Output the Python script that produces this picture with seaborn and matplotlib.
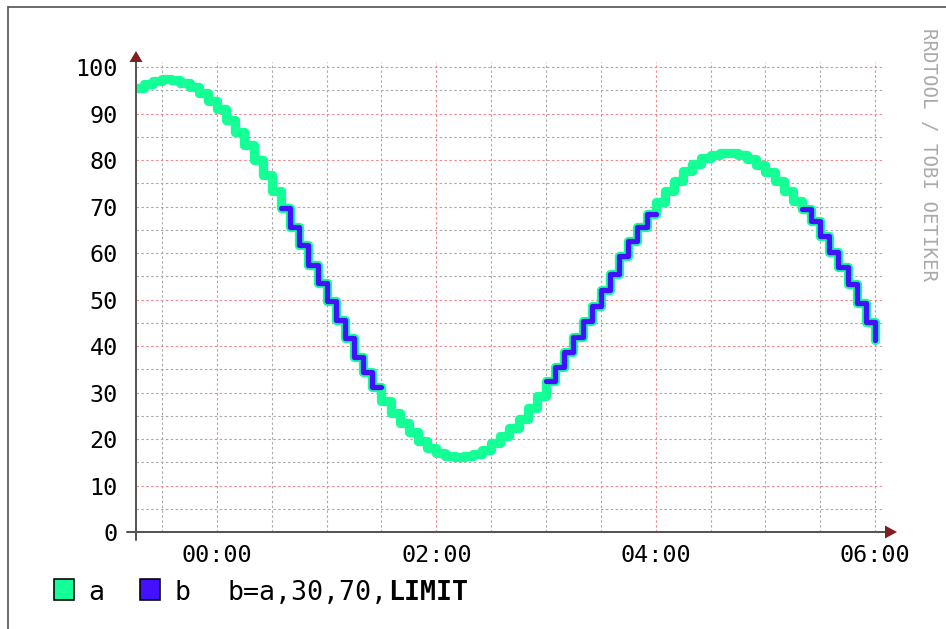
import numpy as np
import matplotlib
matplotlib.use("Agg")
import matplotlib.pyplot as plt
import seaborn as sns
from matplotlib.lines import Line2D
from matplotlib.patches import Polygon, Rectangle

# ---------------- data ----------------
# start of each 5-minute step, minutes relative to 00:00
minutes = list(range(-45, 361, 5))
a_values = [
    95.4, 96.4, 97.1, 97.4, 97.2, 96.6, 95.7, 94.4, 92.8, 90.9,
    88.6, 86.0, 83.2, 80.1, 76.8, 73.3, 69.7, 65.6, 61.7, 57.4,
    53.5, 49.7, 45.6, 41.7, 37.6, 34.4, 31.2, 28.1, 25.6, 23.4,
    21.5, 19.6, 18.1, 17.0, 16.3, 16.1, 16.3, 16.8, 17.7, 19.1,
    20.6, 22.3, 24.4, 26.7, 29.2, 32.4, 35.6, 38.8, 41.9, 45.4,
    48.6, 52.0, 55.6, 59.3, 62.6, 65.6, 68.5, 71.0, 73.4, 75.5,
    77.6, 79.2, 80.4, 81.1, 81.5, 81.5, 81.1, 80.3, 79.0, 77.4,
    75.5, 73.4, 71.2, 69.5, 66.9, 63.6, 60.2, 57.0, 53.3, 49.3,
    45.2, 41.3,
]
limit_low, limit_high = 30, 70
x_major_ticks = [0, 120, 240, 360]
x_major_labels = ["00:00", "02:00", "04:00", "06:00"]
x_minor_ticks = [-30, 30, 60, 90, 150, 180, 210, 270, 300, 330]
y_major_ticks = list(range(0, 101, 10))
y_minor_ticks = list(range(5, 100, 10))
legend_names = ["a", "b"]
legend_comment = "b=a,30,70,"
legend_comment_bold = "LIMIT"
watermark = "RRDTOOL / TOBI OETIKER"

# b = a,30,70,LIMIT  (unknown outside the limits)
b_values = [v if limit_low <= v <= limit_high else np.nan for v in a_values]

# ---------------- style ----------------
W, H = 946, 629
sns.set_style("white")
plt.rcParams["font.family"] = ["DejaVu Sans Mono", "DejaVu Sans"]

GREEN = "#14ff96"
BLUE = "#4411ff"
AXIS = "#555555"
ARROW = "#7f1f1f"
MAJ = "#f08a8a"
MIN = "#a9a9a9"
PX = 0.72  # points per pixel at 100 dpi

fig = plt.figure(figsize=(W / 100, H / 100), dpi=100)
fig.patch.set_facecolor("white")


def fx(p):
    return p / W


def fy(p):
    return 1 - p / H


ax = fig.add_axes([fx(136), fy(532), fx(884) - fx(136), fy(62) - fy(532)])
ax.set_facecolor("white")
ax.set_xlim(-44.3, 364.9)
ax.set_ylim(0, 101.1)
for s in ax.spines.values():
    s.set_visible(False)

ax.set_xticks(x_major_ticks)
ax.set_xticklabels(x_major_labels)
ax.set_xticks(x_minor_ticks, minor=True)
ax.set_yticks(y_major_ticks)
ax.set_yticklabels([str(v) for v in y_major_ticks])
ax.set_yticks(y_minor_ticks, minor=True)

dash = (0, (2.2, 2.2))
ax.grid(which="major", color=MAJ, linestyle=dash, linewidth=0.8)
ax.grid(which="minor", color=MIN, linestyle=dash, linewidth=0.8)
ax.set_axisbelow(True)

ax.tick_params(axis="x", which="major", direction="out", length=5 * PX, width=0.8,
               color=MAJ, pad=5.3, labelsize=16.8, labelcolor="black")
ax.tick_params(axis="x", which="minor", direction="out", length=4 * PX, width=0.8,
               color=MIN)
ax.tick_params(axis="y", which="major", direction="out", length=5 * PX, width=0.8,
               color=MAJ, pad=9.4, labelsize=16.8, labelcolor="black")
ax.tick_params(axis="y", which="minor", direction="out", length=5 * PX, width=0.8,
               color=MIN)

# ---------------- lines ----------------
sns.lineplot(x=minutes, y=a_values, ax=ax, color=GREEN, linewidth=9.3 * PX,
             drawstyle="steps-post", estimator=None, sort=False, legend=False,
             solid_capstyle="round", solid_joinstyle="round", zorder=3)

# draw b in its known runs (gaps where unknown)
runs = []
cur = []
for i, v in enumerate(b_values):
    if np.isnan(v):
        if cur:
            runs.append(cur)
            cur = []
    else:
        cur.append(i)
if cur:
    runs.append(cur)
for r in runs:
    xs = [minutes[i] for i in r]
    ys = [b_values[i] for i in r]
    if r[-1] + 1 < len(minutes):
        xs.append(minutes[r[-1] + 1])
        ys.append(b_values[r[-1]])
    sns.lineplot(x=xs, y=ys, ax=ax, color=BLUE, linewidth=5.3 * PX,
                 drawstyle="steps-post", estimator=None, sort=False, legend=False,
                 solid_capstyle="round", solid_joinstyle="round", zorder=4)

ax.set_xlabel("")
ax.set_ylabel("")

# ---------------- axes lines and arrows ----------------
tf = fig.transFigure
fig.add_artist(Line2D([fx(127), fx(885)], [fy(532), fy(532)], transform=tf,
                      color=AXIS, linewidth=2 * PX, zorder=5))
fig.add_artist(Line2D([fx(136), fx(136)], [fy(540), fy(62)], transform=tf,
                      color=AXIS, linewidth=2 * PX, zorder=5))
fig.add_artist(Polygon([[fx(885), fy(525.5)], [fx(885), fy(538.5)], [fx(897), fy(532)]],
                       closed=True, transform=tf, facecolor=ARROW, edgecolor="none", zorder=6))
fig.add_artist(Polygon([[fx(129.5), fy(62)], [fx(142.5), fy(62)], [fx(136), fy(51)]],
                       closed=True, transform=tf, facecolor=ARROW, edgecolor="none", zorder=6))

# ---------------- frame ----------------
fig.add_artist(Line2D([fx(8), fx(8)], [fy(7), fy(640)], transform=tf,
                      color="#555555", linewidth=1.7 * PX))
fig.add_artist(Line2D([fx(8), fx(960)], [fy(7), fy(7)], transform=tf,
                      color="#555555", linewidth=1.7 * PX))

# ---------------- legend ----------------
for name, col, x0, tx in [(legend_names[0], GREEN, 54, 88), (legend_names[1], BLUE, 140, 174)]:
    fig.add_artist(Rectangle((fx(x0), fy(599.5)), fx(20), 20.5 / H, transform=tf,
                             facecolor=col, edgecolor="black", linewidth=1.6 * PX))
    fig.text(fx(tx), fy(600), name, fontsize=19.2, ha="left", va="baseline", color="black")
fig.text(fx(227.7), fy(600), legend_comment, fontsize=19.2, ha="left", va="baseline",
         color="black")
fig.text(fx(388.0), fy(600), legend_comment_bold, fontsize=19.2, ha="left", va="baseline",
         color="black", fontweight="bold")

# ---------------- watermark ----------------
fig.text(fx(928), fy(154.5), watermark, fontsize=13.7, rotation=270, ha="center",
         va="center", color="#aaaaaa")

fig.savefig("out.png", dpi=100, facecolor="white")
